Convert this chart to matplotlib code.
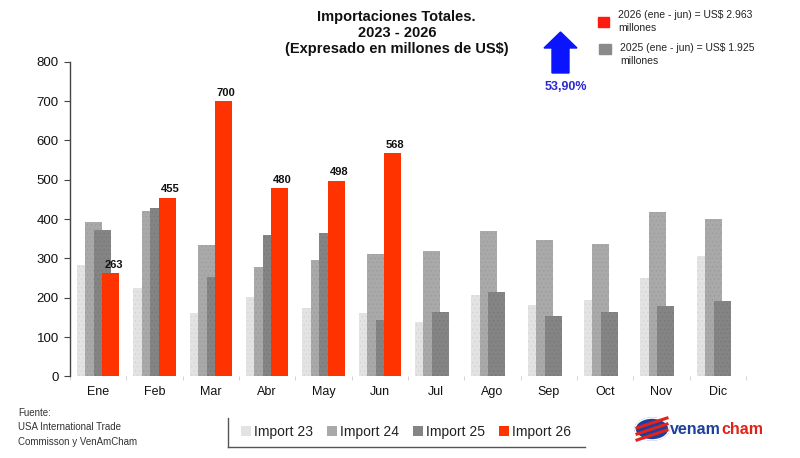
import matplotlib
matplotlib.use('Agg')
import matplotlib.pyplot as plt
import numpy as np
from matplotlib.patches import Polygon, Rectangle, Ellipse
from matplotlib.lines import Line2D

plt.rcParams['font.family'] = ['Liberation Sans', 'DejaVu Sans']
plt.rcParams['hatch.linewidth'] = 0.4

months = ['Ene', 'Feb', 'Mar', 'Abr', 'May', 'Jun', 'Jul', 'Ago', 'Sep', 'Oct', 'Nov', 'Dic']
imp23 = [283, 225, 161, 202, 174, 162, 138, 206, 183, 194, 250, 307]
imp24 = [392, 420, 335, 279, 296, 312, 318, 371, 348, 336, 417, 400]
imp25 = [373, 429, 254, 360, 364, 143, 165, 216, 155, 164, 178, 193]
imp26 = [263, 455, 700, 480, 498, 568]
series_names = ['Import 23', 'Import 24', 'Import 25', 'Import 26']
colors = ['#e3e3e3', '#a9a9a9', '#848484', '#ff3300']
hatch_cols = ['#d2d2d2', '#9a9a9a', '#777777', '#ff3300']

fig = plt.figure(figsize=(8, 4.58), dpi=100)
ax = fig.add_axes([0.0875, 0.178, 0.845, 0.687])

x = np.arange(len(months))
w = 0.30
offsets = [-0.225, -0.075, 0.075, 0.225]
handles = []
for i, vals in enumerate([imp23, imp24, imp25, imp26]):
    xs = x[:len(vals)] + offsets[i]
    b = ax.bar(xs, vals, width=w, color=colors[i], edgecolor=hatch_cols[i],
               linewidth=0, hatch='....' if i < 3 else None, zorder=2 + i,
               label=series_names[i])
    handles.append(b)

for xi, v in zip(x[:len(imp26)] + offsets[3], imp26):
    ax.text(xi + 0.05, v + 8, str(v), ha='center', va='bottom', fontsize=8,
            fontweight='bold', color='#111111', zorder=10)

ax.set_xlim(-0.5, 11.5)
ax.set_ylim(0, 800)
ax.set_yticks(range(0, 801, 100))
ax.set_xticks(x)
ax.set_xticklabels(months)
ax.set_xticks(np.arange(-0.5, 12, 1), minor=True)
ax.tick_params(axis='x', which='major', length=0, pad=7, labelsize=9, labelcolor='#111111')
ax.tick_params(axis='x', which='minor', length=3, color='#cccccc', width=0.6)
ax.tick_params(axis='y', length=4, width=0.8, color='#444444', labelsize=9.5,
               labelcolor='#111111', pad=4)
for s in ['top', 'right', 'bottom']:
    ax.spines[s].set_visible(False)
ax.spines['left'].set_color('#444444')
ax.spines['left'].set_linewidth(1)

fig.text(0.496, 0.978, 'Importaciones Totales.\n2023 - 2026\n(Expresado en millones de US$)',
         ha='center', va='top', fontsize=10.5, fontweight='bold', linespacing=1.2,
         color='#111111')

# overlay in pixel coordinates for decorations
ov = fig.add_axes([0, 0, 1, 1], zorder=20)
ov.set_xlim(0, 800)
ov.set_ylim(458, 0)
ov.axis('off')

# blue arrow
ov.add_patch(Polygon([(552, 73), (569, 73), (569, 48), (577, 48), (560.5, 32),
                      (544, 48), (552, 48)], closed=True, color='#0a14ff'))
ov.text(566, 87, '53,90%', ha='center', va='center', fontsize=9, fontweight='bold',
        color='#2a2ad0')

# top right legend
ov.add_patch(Rectangle((598, 17), 11, 10, color='#ff1a10'))
ov.text(618, 10, '2026 (ene - jun) = US$ 2.963\nmillones', ha='left', va='top',
        fontsize=7.5, color='#222222', linespacing=1.35)
ov.add_patch(Rectangle((599, 44), 12, 10, color='#8a8a8a'))
ov.text(620, 43, '2025 (ene - jun) = US$ 1.925\nmillones', ha='left', va='top',
        fontsize=7.5, color='#222222', linespacing=1.35)

# source
ov.text(18, 408, 'Fuente:\nUSA International Trade\nCommisson y VenAmCham', ha='left', va='top',
        fontsize=7, color='#333333', linespacing=1.55)

# bottom legend with left and bottom rule
ov.add_line(Line2D([228, 228], [418, 447], color='#555555', lw=1))
ov.add_line(Line2D([228, 585], [447, 447], color='#555555', lw=1))
leg = fig.legend(handles=handles, labels=series_names, loc='center',
                 bbox_to_anchor=(406 / 800, 1 - 432 / 458), ncol=4, frameon=False,
                 fontsize=10, handlelength=0.7, handleheight=0.7, handletextpad=0.25,
                 columnspacing=1.0)
for t in leg.get_texts():
    t.set_color('#222222')
for hnd in leg.legend_handles:
    hnd.set_hatch(None)

# logo
ov.add_patch(Ellipse((652, 429), 34, 22, color='#1d3f9e'))
for dy in [-6, 0, 6]:
    ov.add_line(Line2D([637, 667], [429 + dy + 5, 429 + dy - 5], color='#e2231a', lw=2.2))
ov.add_patch(Ellipse((652, 429), 34, 22, fill=False, ec='white', lw=1.2))
venam = ov.text(670, 430, 'venam', ha='left', va='center', fontsize=11.5, fontweight='bold',
                color='#1d3f9e')
ov.annotate('cham', xy=(1, 0.5), xycoords=venam, xytext=(0.5, 0),
            textcoords='offset points', ha='left', va='center', fontsize=11.5,
            fontweight='bold', color='#e2231a')

fig.savefig('out.png', dpi=100)
